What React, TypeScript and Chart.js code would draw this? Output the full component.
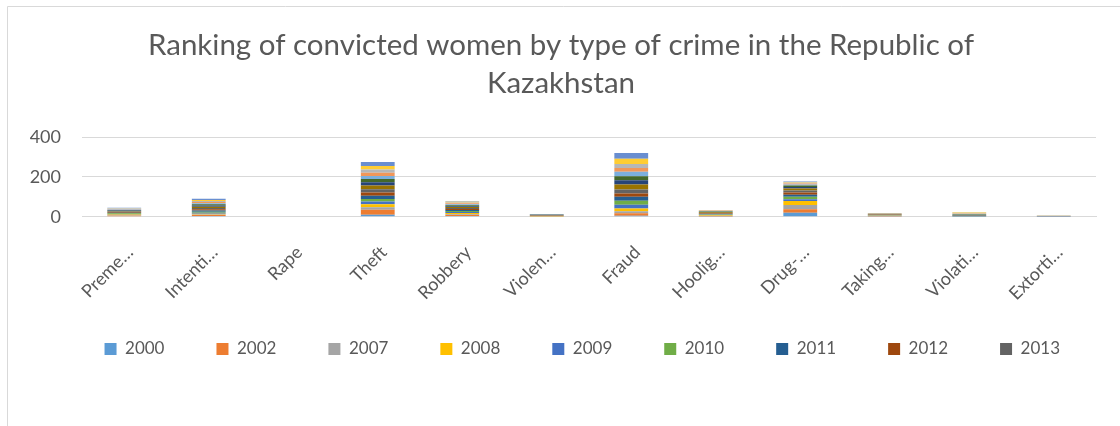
import React, { useEffect, useRef } from "react";
import { Chart, registerables } from "chart.js";

Chart.register(...registerables);

const titleLines = ["Ranking of convicted women by type of crime in the Republic of", "Kazakhstan"];

const categories = ["Preme…", "Intenti…", "Rape", "Theft", "Robbery", "Violen…", "Fraud", "Hoolig…", "Drug-…", "Taking…", "Violati…", "Extorti…"];

const seriesNames = ["2000", "2002", "2007", "2008", "2009", "2010", "2011", "2012", "2013", "2014", "2015", "2016", "2017", "2018", "2019", "2020", "2021"];

const v2000 = [2, 4, 0, 10, 3, 0, 5, 1, 20, 1, 0, 0];
const v2002 = [3, 4, 0, 25, 5, 1, 12, 2, 17, 2, 0, 0];
const v2007 = [2, 3, 0, 12, 4, 0, 10, 2, 22, 1, 0, 0];
const v2008 = [4, 4, 0, 15, 6, 1, 14, 3, 20, 1, 0, 0];
const v2009 = [3, 5, 0, 14, 5, 0, 19, 2, 9, 1, 1, 0];
const v2010 = [3, 5, 0, 13, 6, 1, 20, 2, 12, 1, 1, 0];
const v2011 = [3, 6, 0, 16, 5, 1, 20, 2, 10, 1, 1, 0];
const v2012 = [3, 6, 0, 17, 5, 1, 17, 2, 12, 2, 1, 0];
const v2013 = [3, 7, 0, 16, 5, 2, 20, 3, 10, 2, 1, 1];
const v2014 = [3, 6, 0, 18, 5, 2, 24, 3, 9, 1, 1, 0];
const v2015 = [2, 6, 0, 17, 4, 1, 22, 2, 8, 1, 2, 1];
const v2016 = [3, 6, 0, 16, 5, 1, 20, 2, 7, 1, 3, 0];
const v2017 = [2, 5, 0, 15, 4, 1, 22, 2, 5, 0, 2, 1];
const v2018 = [3, 7, 0, 17, 5, 0, 20, 2, 5, 1, 2, 1];
const v2019 = [2, 5, 0, 16, 4, 1, 19, 2, 4, 1, 2, 2];
const v2020 = [2, 5, 0, 17, 4, 0, 27, 1, 3, 0, 4, 1];
const v2021 = [2, 6, 0, 21, 3, 0, 29, 1, 4, 0, 1, 0];

const seriesValues = [v2000, v2002, v2007, v2008, v2009, v2010, v2011, v2012, v2013, v2014, v2015, v2016, v2017, v2018, v2019, v2020, v2021];

const seriesColors = [
  "#5B9BD5", "#ED7D31", "#A5A5A5", "#FFC000", "#4472C4", "#70AD47",
  "#255E91", "#9E480E", "#636363", "#997300", "#264478", "#43682B",
  "#7CAFDD", "#F1975A", "#B7B7B7", "#FFCD33", "#698ED0",
];

const legendShown = 9;
const yMin = 0;
const yMax = 400;
const yStep = 200;

const FONT = "Lato, 'Open Sans', sans-serif";
const TEXT = "#595959";

const framePlugin = {
  id: "frame",
  beforeDraw(chart: any) {
    const ctx = chart.ctx;
    ctx.save();
    ctx.fillStyle = "#FFFFFF";
    ctx.fillRect(0, 0, chart.width, chart.height);
    ctx.strokeStyle = "#D9D9D9";
    ctx.lineWidth = 1;
    ctx.beginPath();
    ctx.moveTo(7.5, chart.height);
    ctx.lineTo(7.5, 6.5);
    ctx.lineTo(chart.width, 6.5);
    ctx.stroke();
    ctx.restore();
  },
};

const titlePlugin = {
  id: "chartTitle",
  afterDraw(chart: any) {
    const ctx = chart.ctx;
    ctx.save();
    ctx.fillStyle = TEXT;
    ctx.font = `29.5px ${FONT}`;
    ctx.textAlign = "center";
    ctx.textBaseline = "middle";
    titleLines.forEach((line, i) => ctx.fillText(line, 561, 45 + i * 38));
    ctx.restore();
  },
};

export default function App() {
  const ref = useRef<HTMLCanvasElement | null>(null);

  useEffect(() => {
    if (!ref.current) return;
    const chart = new Chart(ref.current, {
      type: "bar",
      data: {
        labels: categories,
        datasets: seriesNames.map((name, i) => ({
          label: name,
          data: seriesValues[i],
          backgroundColor: seriesColors[i],
          borderWidth: 0,
          barPercentage: 0.4,
          categoryPercentage: 1,
          yAxisID: "y",
        })),
      },
      options: {
        responsive: false,
        animation: false,
        layout: { padding: { left: 24, right: 8, top: 137, bottom: 58.5 } },
        plugins: {
          tooltip: { enabled: false },
          title: { display: false },
          legend: {
            display: true,
            position: "bottom",
            fullSize: true,
            align: "end",
            labels: {
              color: TEXT,
              font: { family: FONT, size: 17 },
              boxWidth: 12,
              boxHeight: 12,
              padding: 52,
              filter: (item: any) => item.datasetIndex < legendShown,
            },
          },
        },
        scales: {
          x: {
            stacked: true,
            grid: { display: false },
            border: { display: true, color: "#D9D9D9", width: 1 },
            ticks: {
              color: TEXT,
              font: { family: FONT, size: 18 },
              minRotation: 45,
              maxRotation: 45,
              autoSkip: false,
              padding: 17,
              labelOffset: 6,
            },
            afterFit: (s: any) => {
              s.height = 71.8;
              // let the rotated category labels run below the axis box, as in the reference
              s._computeLabelArea = () => undefined;
            },
          },
          y: {
            stacked: true,
            position: "left",
            min: yMin,
            max: yMax,
            grid: { color: "#D9D9D9", drawTicks: false, lineWidth: 1 },
            border: { display: false },
            ticks: {
              stepSize: yStep,
              color: TEXT,
              font: { family: FONT, size: 18 },
              padding: 21,
            },
            afterFit: (s: any) => {
              s.width = 58;
            },
          },
          yRight: {
            position: "right",
            display: true,
            min: yMin,
            max: yMax,
            grid: { display: false, drawTicks: false },
            border: { display: false },
            ticks: { display: false },
            afterFit: (s: any) => {
              s.width = 16;
            },
          },
        },
      },
      plugins: [framePlugin, titlePlugin],
    });
    return () => chart.destroy();
  }, []);

  return (
    <div style={{ position: "fixed", left: 0, top: 0, width: 1120, height: 426, background: "#fff" }}>
      <canvas ref={ref} width={1120} height={426} style={{ display: "block" }} />
    </div>
  );
}
